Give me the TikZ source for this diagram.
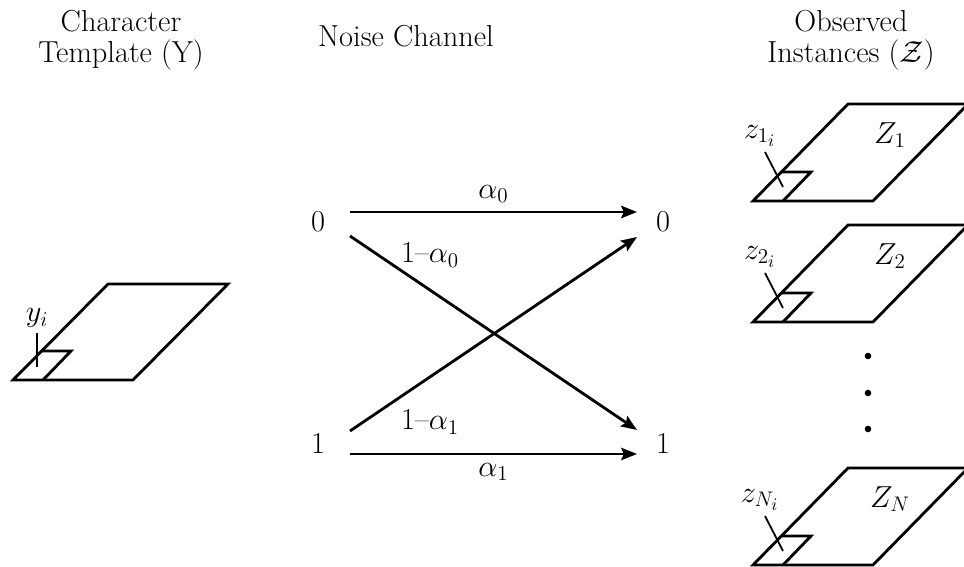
\documentclass[tikz,border=0pt]{standalone}
\usepackage{amsmath}
\usepackage{amssymb}
\usetikzlibrary{arrows.meta, calc}

\begin{document}
\begin{tikzpicture}[x=0.02cm, y=-0.02cm, line width=1.6pt,
    every node/.style={font={\fontsize{17.28}{17.8}\selectfont}},
    chan/.style={-{Stealth[length=9pt,width=7pt,inset=1.5pt]}}]
\useasboundingbox (0,0) rectangle (964,567);
% headers
\node[align=center] (htmpl) at (121,40) {Character\\Template (Y)};
\node (hchan) at (406,36) {Noise Channel};
\node[align=center] (hobs) at (851,40) {Observed\\Instances ($\mathcal{Z}$)};
% template sheet
\draw (13,380) -- ++(120,0) -- ++(95,-96) -- ++(-120,0) -- cycle;
\draw (43,380) -- ++(28,-29) -- ++(-29,0);
\draw[line width=1pt] (37,333) -- (37,367);
\node (y) at (37,318) {$y_i$};
% channel
\node (l0) at (318,222) {0};
\node (l1) at (318,443) {1};
\node (r0) at (663,222) {0};
\node (r1) at (663,443) {1};
\draw[chan] ([shift={(32,-10)}]l0.center) -- ([shift={(-26,-10)}]r0.center)
    node[midway, above=1pt] (a0) {$\alpha_0$};
\draw[chan] ([shift={(32,14)}]l0.center) -- ([shift={(-26,-13)}]r1.center);
\draw[chan] ([shift={(32,-12)}]l1.center) -- ([shift={(-26,15)}]r0.center);
\draw[chan] ([shift={(32,11)}]l1.center) -- ([shift={(-26,11)}]r1.center)
    node[midway, below=1pt] (a1) {$\alpha_1$};
\node (b0) at (430,255) {1--$\alpha_0$};
\node (b1) at (430,422) {1--$\alpha_1$};
% observed sheets
\foreach \bx/\by/\n in {753/201/1, 753/322/2, 753/565/N}{
  \draw (\bx,\by) -- ++(120,0) -- ++(95,-97) -- ++(-120,0) -- cycle;
  \draw (\bx+30,\by) -- ++(28,-29) -- ++(-29,0);
  \draw[line width=1pt] (\bx+12,\by-49) -- (\bx+30,\by-14);
  \node (Z\n) at (\bx+137,\by-66) {$Z_{\n}$};
  \node (z\n) at (\bx+7,\by-65) {$z_{\n_i}$};
}
\foreach \y in {356,393,429}
  \fill (868,\y) circle (3.3);
\end{tikzpicture}
\end{document}
